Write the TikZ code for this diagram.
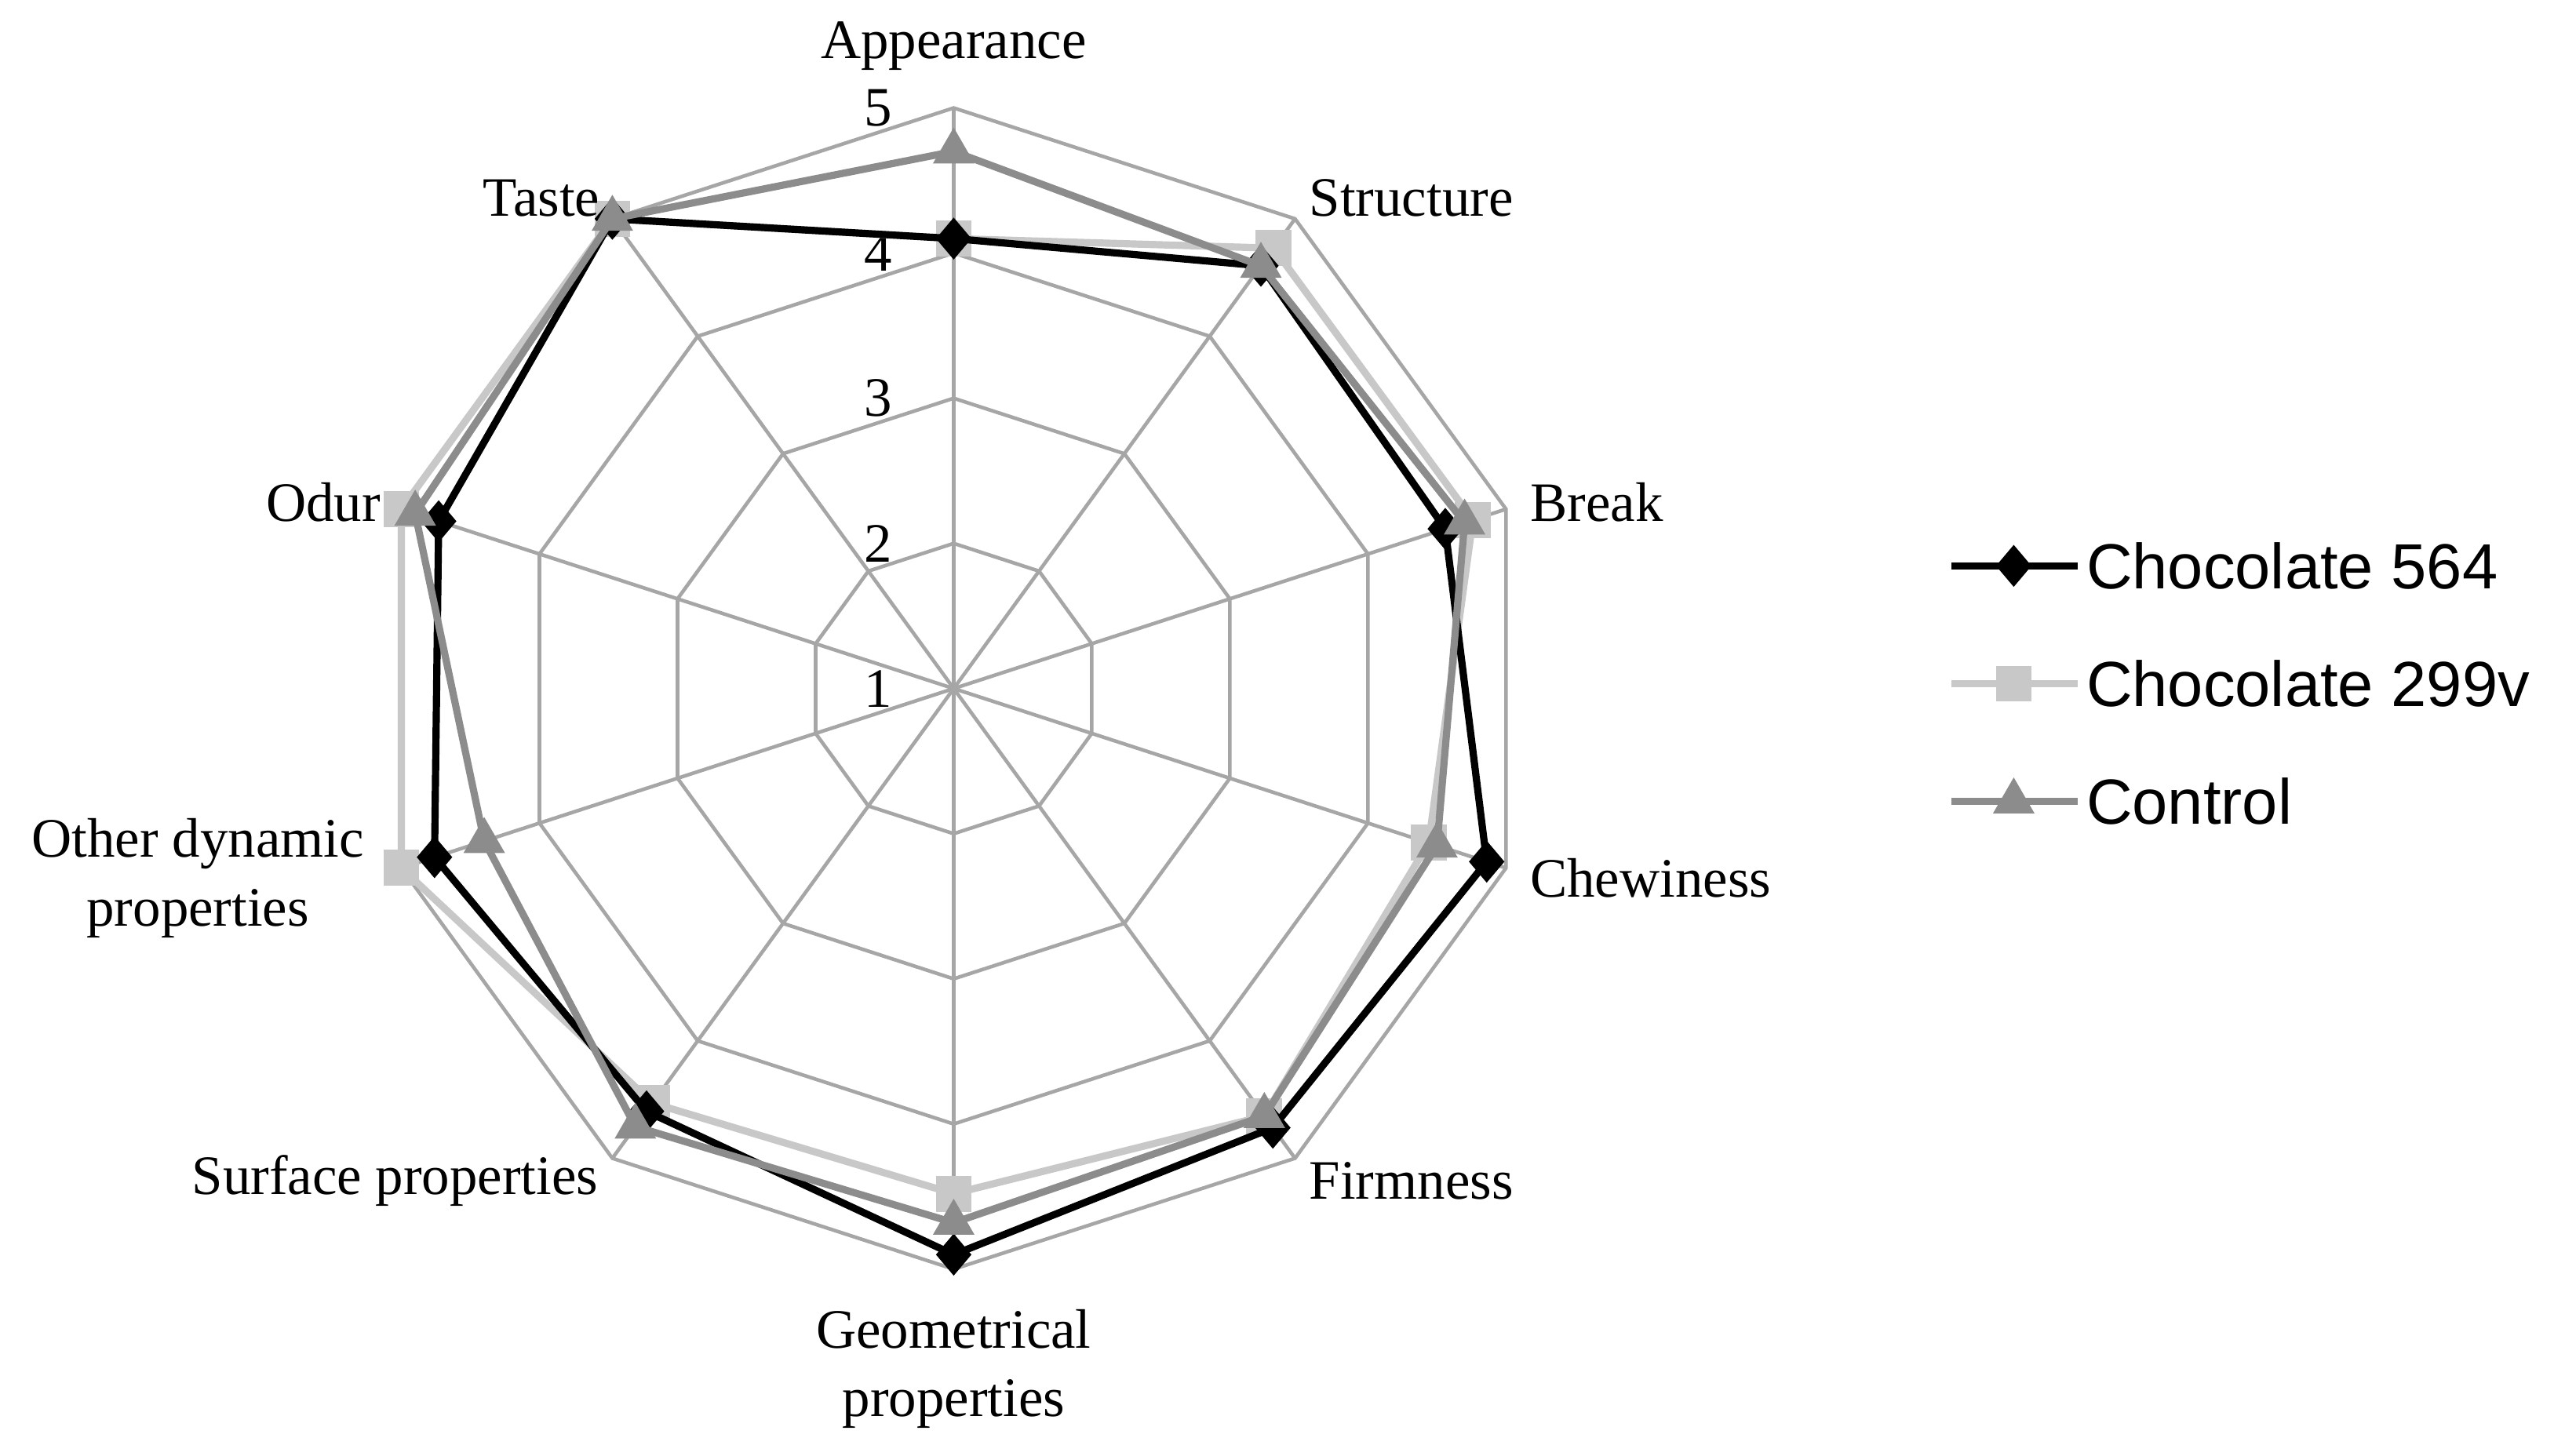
\documentclass[tikz,border=0pt]{standalone}
\usepackage{fontspec}
\setmainfont{Liberation Serif}
\newfontfamily\legfont{Liberation Sans}
\usetikzlibrary{shapes.geometric,calc}
\definecolor{gridc}{HTML}{A6A6A6}
\definecolor{sA}{HTML}{000000}
\definecolor{sB}{HTML}{C8C8C8}
\definecolor{sC}{HTML}{8C8C8C}
\begin{document}
\begin{tikzpicture}[x=0.5pt,y=0.5pt,
  grid/.style={draw=gridc,line width=1.1pt},
  ser/.style={line width=2.2pt,line join=round},
  lab/.style={font=\fontsize{17}{19}\selectfont,inner sep=0pt},
  tick/.style={font=\fontsize{17}{19}\selectfont,inner sep=0pt},
  mA/.style={diamond,fill=sA,minimum width=11pt,minimum height=13pt,inner sep=0pt},
  mB/.style={rectangle,fill=sB,minimum size=11pt,inner sep=0pt},
  mC/.style={isosceles triangle,isosceles triangle apex angle=60,shape border rotate=90,fill=sC,minimum size=11pt,inner sep=0pt},
  leg/.style={font=\legfont\fontsize{19.5}{22}\selectfont,anchor=west,inner sep=0pt}]
\useasboundingbox (0,0) rectangle (1568,890);
\coordinate (O) at (583,469);
% grid rings
\foreach \k in {2,3,4,5}{
  \foreach \i in {0,...,9}{ \coordinate (g\k-\i) at ($(O)+({90-36*\i}:{(\k-1)*88.75})$); }
  \draw[grid] (g\k-0) \foreach \i in {1,...,9}{ -- (g\k-\i) } -- cycle;
}
\foreach \i in {0,...,9}{ \draw[grid] (O) -- (g5-\i); }
% tick labels
\foreach \k in {1,...,5}{ \node[tick] (t\k) at (537,{469+(\k-1)*88.75}) {\k}; }
% series
\newcommand\myplot[4]{%
  \foreach \v [count=\i from 0] in {#3}{ \coordinate (#1-\i) at ($(O)+({90-36*\i}:{(\v-1)*88.75})$); }
  \draw[ser,draw=#2] (#1-0) \foreach \i in {1,...,9}{ -- (#1-\i) } -- cycle;
  \foreach \i in {0,...,9}{ \node[#4] (#1m\i) at (#1-\i) {}; }
}
\myplot{B}{sB}{4.1,4.75,4.76,4.44,4.64,4.48,4.53,5.0,5.0,5.0}{mB}
\myplot{A}{sA}{4.1,4.6,4.56,4.86,4.74,4.9,4.6,4.76,4.73,5.0}{mA}
\myplot{C}{sC}{4.7,4.6,4.7,4.5,4.64,4.68,4.73,4.4,4.9,5.0}{mC}
% axis labels
\node[lab] (l0) at (583,862) {Appearance};
\node[lab,anchor=west] (l1) at (800,769) {Structure};
\node[lab,anchor=west] (l2) at (935,583) {Break};
\node[lab,anchor=west] (l3) at (935,353) {Chewiness};
\node[lab,anchor=west] (l4) at (800,168) {Firmness};
\node[lab,align=center] (l5) at (583,53) {Geometrical\\[2pt]properties};
\node[lab,anchor=east] (l6) at (366,168) {Surface properties};
\node[lab,align=center] (l7) at (121,353) {Other dynamic\\[2pt]properties};
\node[lab,anchor=east] (l8) at (233,583) {Odur};
\node[lab,anchor=east] (l9) at (367,769) {Taste};
% legend
\coordinate (a1) at (1193,544); \coordinate (a2) at (1270,544);
\coordinate (b1) at (1193,472); \coordinate (b2) at (1270,472);
\coordinate (c1) at (1193,400); \coordinate (c2) at (1270,400);
\draw[ser,draw=sA] (a1) -- (a2); \node[mA] (ma) at (1231,544) {};
\draw[ser,draw=sB] (b1) -- (b2); \node[mB] (mb) at (1231,472) {};
\draw[ser,draw=sC] (c1) -- (c2); \node[mC] (mc) at (1231,400) {};
\node[leg] (ta) at (1275,544) {Chocolate 564};
\node[leg] (tb) at (1275,472) {Chocolate 299v};
\node[leg] (tc) at (1275,400) {Control};
\end{tikzpicture}
\end{document}
